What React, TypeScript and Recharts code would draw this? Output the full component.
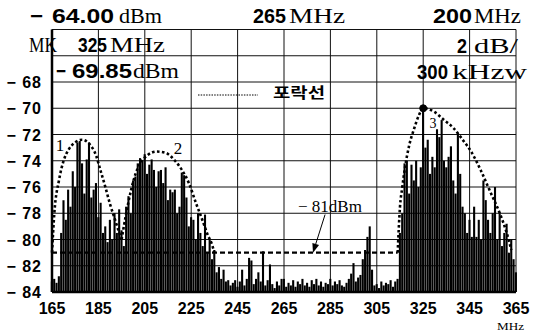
import { Bar, CartesianGrid, ComposedChart, Line, ReferenceDot, ReferenceLine, XAxis, YAxis } from 'recharts';

// spectrum levels (dBm), 1 MHz steps starting at 165 MHz
const startFreq = 165;
const band1Levels = [
  -83.2, -83.0, -83.3, -82.8, -79.5, -77.0, -78.5, -76.2, -77.5, -74.8, -76, -72.6, -72.5, -74.2, -76.5, -73.9,
  -72.6, -76.8, -76.2, -75.7, -78.3, -77.2, -79.5, -79, -80.2, -78.5, -80, -78, -79.5, -77.7, -79.3,
];
const band2Levels = [
  -80.5, -77.5, -76.7, -78, -75.5, -75.2, -74.2, -73.8, -74, -73.5, -75, -74.3, -73.9, -74.7, -76, -74.8, -74.7,
  -75.7, -74.5, -77, -76.2, -76.4, -76.2, -78, -77.5, -74.9, -75.1, -76.8, -79, -78.3, -78.5, -80, -78, -79.5,
  -80.5, -78.1, -81, -80, -81.5, -80.8, -82.5, -82.1, -83, -82.3, -83.2, -83.1, -83.5, -83.3, -83.1,
];
const floorLevels = [
  -83.6, -83.2, -82.3, -83.5, -83.0, -81.4, -81.6, -83.4, -83.0, -82.5, -83.2, -80.9, -83.5, -83.1, -81.9, -83.4,
  -83.7, -83.2, -83.5, -83.0, -83.0, -83.6, -83.3, -83.5, -83.1, -83.6, -83.2, -83.4, -83.0, -83.5, -83.3, -83.6,
  -83.1, -83.4, -83.0, -83.5, -83.2, -83.6, -83.3, -83.4, -83.0, -83.5, -83.2, -83.4, -83.1, -83.5, -83.6, -83.3,
  -83.0, -82.6, -81.8, -83.2, -82.9, -82.7, -81.5, -80.8, -79.8, -79.0, -82.3, -83.5, -83.4, -83.7, -83.2, -83.5,
  -83.3, -83.4, -83.1, -83.6, -83.2,
];
const band3Levels = [
  -83.0, -79.5, -78.0, -74.2, -74.0, -76.5, -74.3, -75.5, -74.0, -76, -74.5, -70.1, -73, -72.4, -75, -73.7, -74.5,
  -71.6, -72.2, -70.9, -74, -74.5, -73.7, -72.9, -75.5, -76.5, -71.9, -75, -77.5, -78, -79.5, -78.5, -79.8, -77.5,
  -79.8, -78.5, -80, -75.5, -77, -78.5, -79.5, -78, -76, -80, -78, -80.5, -79.5, -78.8, -81, -80, -81.5, -82.5,
];

// envelope (포락선) points [MHz, dBm]
const env1Points = [
  [165, -81], [166, -78], [168, -75.5], [170, -74], [172, -73.2], [175, -72.6], [178, -72.4], [181, -72.7],
  [184, -73.6], [186, -74.8], [188, -76], [190, -77.3], [192, -78.4], [194, -79.5], [195, -80],
];
const env2Points = [
  [195, -80], [197, -78], [199, -76.3], [201, -75], [203, -74.2], [206, -73.6], [210, -73.3], [214, -73.4],
  [218, -74], [221, -74.7], [224, -75.7], [227, -77.2], [230, -78.6], [232, -79.6], [234, -80.4], [235, -81],
];
const env3Points = [
  [314, -81], [315, -77.5], [316, -76], [317, -74.7], [319, -72.8], [321, -71.6], [323, -70.6], [325, -70],
  [327, -70.05], [330, -70.3], [334, -70.9], [338, -71.5], [342, -72.4], [346, -73.4], [350, -74.8], [354, -76.4],
  [358, -78], [361, -79.5], [363, -80.8],
];

const xTicks = [165, 185, 205, 225, 245, 265, 285, 305, 325, 345, 365];
const yTicks = [-84, -82, -80, -78, -76, -74, -72, -70, -68, -66, -64];
const refLevel = -81;
const refEnd = 314;
const markerFreq = 325;
const markerLevel = -70;

const sans = '"Liberation Sans", Arial, sans-serif';
const serif = '"Liberation Serif", "Times New Roman", serif';

const levels = [...band1Levels, ...band2Levels, ...floorLevels, ...band3Levels];
const lookup = (pts: number[][], f: number) => {
  const p = pts.find((q) => q[0] === f);
  return p ? p[1] : null;
};
const data = levels.map((v, i) => {
  const f = startFreq + i;
  return {
    f,
    spec: [-84, v],
    env1: lookup(env1Points, f),
    env2: lookup(env2Points, f),
    env3: lookup(env3Points, f),
  };
});

function YTick({ x, y, payload }: any) {
  if (payload.value > -68) return null;
  return (
    <text x={x - 2} y={y + 6} textAnchor="end" fontFamily={sans} fontWeight={700} fontSize={16} letterSpacing={1} fill="#000">
      {`− ${Math.abs(payload.value)}`}
    </text>
  );
}

function Arrow(props: any) {
  const { x1, y1, x2, y2 } = props;
  const a = Math.atan2(y2 - y1, x2 - x1);
  const L = 9;
  const w = 3.5;
  const bx = x2 - L * Math.cos(a);
  const by = y2 - L * Math.sin(a);
  const px = -Math.sin(a) * w;
  const py = Math.cos(a) * w;
  return (
    <g>
      <line x1={x1} y1={y1} x2={bx} y2={by} stroke="#000" strokeWidth={1} />
      <polygon points={`${x2},${y2} ${bx + px},${by + py} ${bx - px},${by - py}`} fill="#000" />
    </g>
  );
}

function T({ x, y, w, size = 20, bold = false, children }: any) {
  return (
    <text
      x={x}
      y={y}
      textLength={w}
      lengthAdjust="spacingAndGlyphs"
      fontFamily={bold ? sans : serif}
      fontWeight={bold ? 700 : 400}
      fontSize={size}
      fill="#000"
    >
      {children}
    </text>
  );
}

const envStyle = { stroke: '#000', strokeWidth: 2.6, strokeDasharray: '2.6 2.4' };

export default function App() {
  return (
    <div style={{ position: 'absolute', left: 0, top: 0, width: 538, height: 331, background: '#fff' }}>
      <ComposedChart width={538} height={331} data={data} margin={{ top: 29.5, right: 22, bottom: 9, left: 2 }}>
        <CartesianGrid stroke="#111" strokeWidth={1} />
        <XAxis
          dataKey="f"
          type="number"
          domain={[165, 365]}
          ticks={xTicks}
          height={30}
          tickLine={false}
          tickMargin={5}
          axisLine={{ stroke: '#000', strokeWidth: 2.5 }}
          tick={{ fill: '#000', fontSize: 16, fontWeight: 700, fontFamily: sans }}
          interval={0}
        />
        <YAxis
          type="number"
          domain={[-84, -64]}
          ticks={yTicks}
          width={50}
          tickLine={false}
          axisLine={{ stroke: '#000', strokeWidth: 2.5 }}
          tick={<YTick />}
          interval={0}
        />
        <Bar dataKey="spec" fill="#000" barSize={2.1} isAnimationActive={false} />
        <ReferenceLine
          segment={[{ x: 165, y: refLevel }, { x: refEnd, y: refLevel }]}
          stroke="#000"
          strokeWidth={2.2}
          strokeDasharray="5 3"
        />
        <Line dataKey="env1" type="monotone" connectNulls dot={false} {...envStyle} isAnimationActive={false} />
        <Line dataKey="env2" type="monotone" connectNulls dot={false} {...envStyle} isAnimationActive={false} />
        <Line dataKey="env3" type="monotone" connectNulls dot={false} {...envStyle} isAnimationActive={false} />
        <ReferenceDot x={markerFreq} y={markerLevel} r={3.5} fill="#000" stroke="#000" />
        <ReferenceLine segment={[{ x: 282.7, y: -78.1 }, { x: 277.5, y: refLevel }]} shape={<Arrow />} />
        <ReferenceDot x={168.4} y={-72.8} r={0} label={{ value: '1', position: 'center', fontFamily: serif, fontSize: 17, fill: '#000' }} />
        <ReferenceDot x={219.3} y={-73.0} r={0} label={{ value: '2', position: 'center', fontFamily: serif, fontSize: 17, fill: '#000' }} />
        <ReferenceDot x={329.2} y={-71.1} r={0} label={{ value: '3', position: 'center', fontFamily: serif, fontSize: 14, fill: '#000' }} />
        <ReferenceDot x={284.8} y={-77.45} r={0} label={{ value: '− 81dBm', position: 'center', fontFamily: serif, fontSize: 17, fill: '#000' }} />
      </ComposedChart>
      <svg width={538} height={331} style={{ position: 'absolute', left: 0, top: 0, pointerEvents: 'none' }}>
        <T x={30} y={23} w={13} bold>−</T>
        <T x={52} y={23} w={62} bold>64.00</T>
        <T x={119} y={23} w={43}>dBm</T>
        <T x={253} y={23} w={33} bold>265</T>
        <T x={289} y={23} w={56}>MHz</T>
        <T x={433} y={23} w={39} bold>200</T>
        <T x={474} y={23} w={47}>MHz</T>
        <T x={29} y={52} w={28}>MK</T>
        <T x={78} y={52} w={29} bold>325</T>
        <T x={110} y={52} w={55}>MHz</T>
        <T x={457} y={53} w={10} bold>2</T>
        <T x={474} y={53} w={44}>dB/</T>
        <T x={56} y={78} w={10} bold>−</T>
        <T x={72} y={78} w={60} bold>69.85</T>
        <T x={133} y={78} w={46}>dBm</T>
        <T x={417} y={79} w={31} bold>300</T>
        <T x={452} y={79} w={75}>kHzw</T>
        <line x1={198} y1={95} x2={258} y2={95} stroke="#000" strokeWidth={1} strokeDasharray="1.5 1.2" />
        <text x={273} y={98} fontFamily='"Noto Sans CJK KR", sans-serif' fontWeight={700} fontSize={15} textLength={52} lengthAdjust="spacingAndGlyphs" fill="#000">
          포락선
        </text>
        <T x={497} y={330} w={27} size={11}>MHz</T>
      </svg>
    </div>
  );
}
